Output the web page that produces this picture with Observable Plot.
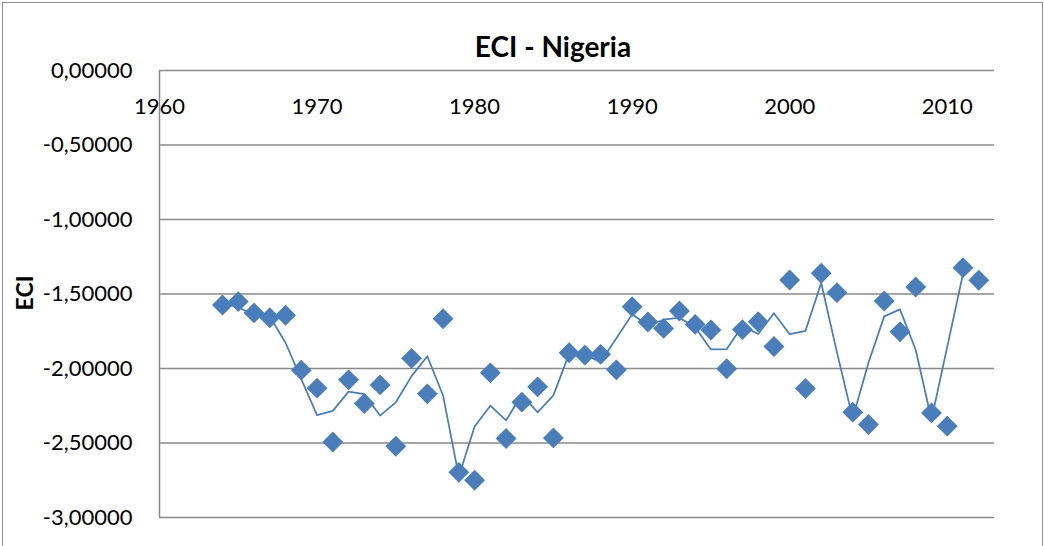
<!DOCTYPE html>
<html><head><meta charset="utf-8">
<script src="https://cdn.jsdelivr.net/npm/d3@7"></script>
<script src="https://cdn.jsdelivr.net/npm/@observablehq/plot@0.6"></script>
<style>
html,body{margin:0;padding:0;background:#fff;}
#wrap{position:relative;width:1044px;height:546px;overflow:hidden;font-family:Lato,sans-serif;}
#frame{position:absolute;left:2px;top:2px;width:1039px;height:600px;border:1px solid #8e8e8e;}
#title{position:absolute;left:553px;top:33px;transform:translateX(-50%);white-space:nowrap;font-weight:bold;font-size:28px;line-height:27px;color:#000;}
#ylab{position:absolute;left:23.5px;top:293px;transform:translate(-50%,-50%) rotate(-90deg);font-weight:bold;font-size:23px;line-height:23px;color:#000;}
#plot{position:absolute;left:0;top:0;}
</style></head>
<body>
<div id="wrap">
  <div id="frame"></div>
  <div id="plot"></div>
  <div id="title">ECI - Nigeria</div>
  <div id="ylab">ECI</div>
</div>
<script>
const years = [1964,1965,1966,1967,1968,1969,1970,1971,1972,1973,1974,1975,1976,1977,1978,1979,1980,1981,1982,1983,1984,1985,1986,1987,1988,1989,1990,1991,1992,1993,1994,1995,1996,1997,1998,1999,2000,2001,2002,2003,2004,2005,2006,2007,2008,2009,2010,2011,2012];
const eci = [-1.574,-1.551,-1.627,-1.659,-1.643,-2.011,-2.132,-2.493,-2.076,-2.235,-2.110,-2.522,-1.932,-2.170,-1.666,-2.697,-2.750,-2.029,-2.470,-2.226,-2.123,-2.466,-1.894,-1.910,-1.905,-2.009,-1.585,-1.688,-1.731,-1.614,-1.704,-1.742,-2.002,-1.739,-1.686,-1.852,-1.406,-2.134,-1.361,-1.491,-2.293,-2.376,-1.547,-1.753,-1.453,-2.298,-2.387,-1.323,-1.408];
const yTicks = [0,-0.5,-1,-1.5,-2,-2.5,-3];
const xTicks = [1960,1970,1980,1990,2000,2010];

const data = years.map((year,i)=>({year, eci: eci[i]}));
const fmt = d3.formatLocale({decimal:",", thousands:".", grouping:[3], currency:["",""], minus:"-"}).format(".5f");
const blue = "#4a7ebb";
const gridCol = "#8a8a8a";

const chart = Plot.plot({
  width:1044, height:546,
  marginLeft:159, marginTop:70, marginRight:50, marginBottom:29,
  x:{domain:[1960,2013]},
  y:{domain:[-3,0]},
  style:{fontFamily:"Lato, sans-serif", fontSize:"22px", color:"#000", background:"transparent", overflow:"visible"},
  marks:[
    Plot.gridY({ticks:yTicks, stroke:gridCol, strokeOpacity:1, strokeWidth:1.5}),
    Plot.ruleX([1960],{stroke:gridCol, strokeWidth:1.5}),
    Plot.axisY({ticks:yTicks, tickSize:0, tickPadding:27, tickFormat:fmt, fontSize:22, label:null}),
    Plot.axisX({anchor:"top", ticks:xTicks, tickSize:0, tickPadding:0, dy:43, tickFormat:d=>String(d), fontSize:22, label:null}),
    Plot.lineY(data, Plot.windowY({k:2, anchor:"start", strict:true}, {x:"year", y:"eci", stroke:blue, strokeWidth:1.75})),
    Plot.dot(data, {x:"year", y:"eci", symbol:"diamond2", r:9.4, fill:blue, stroke:"none"})
  ]
});
document.getElementById("plot").appendChild(chart);
</script>
</body></html>
